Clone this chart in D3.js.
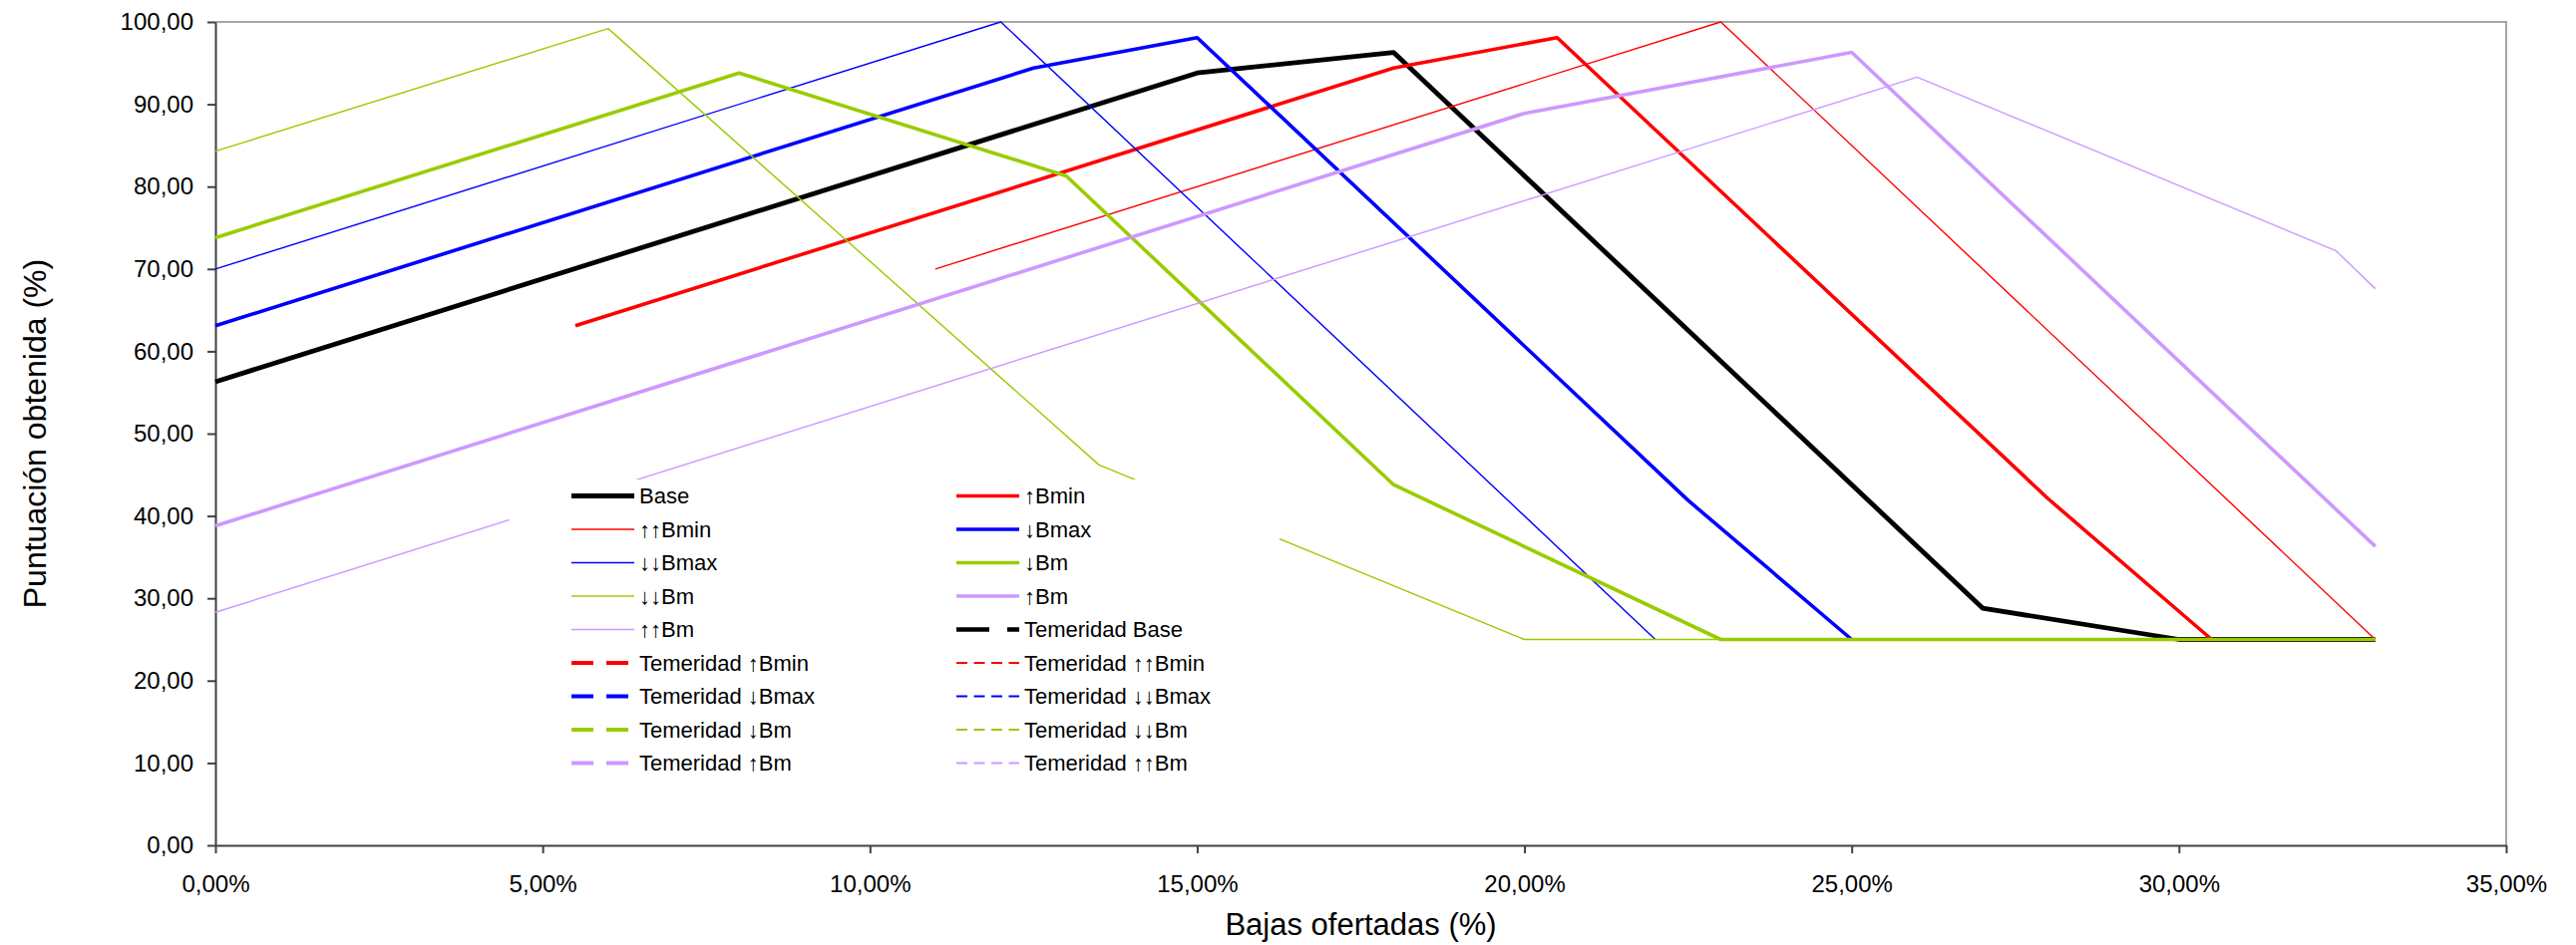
<!DOCTYPE html>
<html>
<head>
<meta charset="utf-8">
<script src="https://cdn.jsdelivr.net/npm/d3@7"></script>
<style>
  html, body { margin: 0; padding: 0; background: #fff; }
  svg { display: block; font-family: "Liberation Sans", Arial, sans-serif; }
</style>
</head>
<body>
<svg id="chart" width="2583" height="948"></svg>
<script>
// ---- Data (x: Bajas ofertadas %, y: Puntuación obtenida %) ----
const baseX = [0, 15, 18, 27, 30, 33];
const baseY = [56.3, 93.8, 96.3, 28.8, 25, 25];

const upBminX = [5.5, 18, 20.5, 28, 30.5];
const upBminY = [63.1, 94.4, 98.1, 42.1, 25];

const upupBminX = [11, 23, 33];
const upupBminY = [70.0, 100, 25];

const downBmaxX = [0, 12.5, 15, 22.5, 25];
const downBmaxY = [63.1, 94.4, 98.1, 41.9, 25];

const downdownBmaxX = [0, 12, 22];
const downdownBmaxY = [70.0, 100, 25];

const downBmX = [0, 8, 13, 18, 23, 33];
const downBmY = [73.8, 93.8, 81.3, 43.8, 25, 25];

const downdownBmX = [0, 6, 13.5, 20, 23];
const downdownBmY = [84.3, 99.2, 46.2, 25, 25];

const upBmX = [0, 20, 25, 33];
const upBmY = [38.8, 88.9, 96.3, 36.3];

const upupBmX = [0, 26, 32.4, 33];
const upupBmY = [28.3, 93.3, 72.2, 67.6];

const yTicks = [0, 10, 20, 30, 40, 50, 60, 70, 80, 90, 100];
const xTicks = [0, 5, 10, 15, 20, 25, 30, 35];

// series definitions (draw order = legend order)
const series = [
  {name: "Base", xs: baseX, ys: baseY, color: "#000000", w: 4.8, dash: null},
  {name: "\u2191Bmin", xs: upBminX, ys: upBminY, color: "#FF0000", w: 3.6, dash: null},
  {name: "\u2191\u2191Bmin", xs: upupBminX, ys: upupBminY, color: "#FF0000", w: 1.4, dash: null},
  {name: "\u2193Bmax", xs: downBmaxX, ys: downBmaxY, color: "#0000FF", w: 3.6, dash: null},
  {name: "\u2193\u2193Bmax", xs: downdownBmaxX, ys: downdownBmaxY, color: "#0000FF", w: 1.4, dash: null},
  {name: "\u2193Bm", xs: downBmX, ys: downBmY, color: "#99CC00", w: 3.6, dash: null},
  {name: "\u2193\u2193Bm", xs: downdownBmX, ys: downdownBmY, color: "#99CC00", w: 1.4, dash: null},
  {name: "\u2191Bm", xs: upBmX, ys: upBmY, color: "#CC99FF", w: 3.6, dash: null},
  {name: "\u2191\u2191Bm", xs: upupBmX, ys: upupBmY, color: "#CC99FF", w: 1.4, dash: null},
  {name: "Temeridad Base", xs: [], ys: [], color: "#000000", w: 4.5, dash: "33,18"},
  {name: "Temeridad \u2191Bmin", xs: [], ys: [], color: "#FF0000", w: 4, dash: "22,13"},
  {name: "Temeridad \u2191\u2191Bmin", xs: [], ys: [], color: "#FF0000", w: 2, dash: "11,6.5"},
  {name: "Temeridad \u2193Bmax", xs: [], ys: [], color: "#0000FF", w: 4, dash: "22,13"},
  {name: "Temeridad \u2193\u2193Bmax", xs: [], ys: [], color: "#0000FF", w: 2, dash: "11,6.5"},
  {name: "Temeridad \u2193Bm", xs: [], ys: [], color: "#99CC00", w: 4, dash: "22,13"},
  {name: "Temeridad \u2193\u2193Bm", xs: [], ys: [], color: "#99CC00", w: 2, dash: "11,6.5"},
  {name: "Temeridad \u2191Bm", xs: [], ys: [], color: "#CC99FF", w: 4, dash: "22,13"},
  {name: "Temeridad \u2191\u2191Bm", xs: [], ys: [], color: "#CC99FF", w: 2, dash: "11,6.5"}
];

// ---- Layout ----
const svg = d3.select("#chart");
const pL = 216, pR = 2513, pT = 22, pB = 848;
const x = d3.scaleLinear().domain([0, 35]).range([pL, pR]);
const y = d3.scaleLinear().domain([0, 100]).range([pB, pT]);

const loc = d3.formatLocale({decimal: ",", thousands: ".", grouping: [3], currency: ["", "€"]});
const fy = loc.format(".2f");
const fx = v => loc.format(".2f")(v) + "%";

// plot border (top & right)
svg.append("path")
  .attr("d", `M${pL},${pT}H${pR}V${pB}`)
  .attr("fill", "none").attr("stroke", "#a6a6a6").attr("stroke-width", 2);

// axes
const yAxis = d3.axisLeft(y).tickValues(yTicks).tickFormat(fy).tickSize(8).tickSizeOuter(0).tickPadding(14);
const xAxis = d3.axisBottom(x).tickValues(xTicks).tickFormat(fx).tickSize(8).tickSizeOuter(0).tickPadding(22);

const gy = svg.append("g").attr("transform", `translate(${pL},0)`).call(yAxis);
const gx = svg.append("g").attr("transform", `translate(0,${pB})`).call(xAxis);
[gy, gx].forEach(g => {
  g.select(".domain").attr("stroke", "#404040").attr("stroke-width", 2);
  g.selectAll(".tick line").attr("stroke", "#404040").attr("stroke-width", 2);
  g.selectAll(".tick text").attr("fill", "#000").style("font-size", "24px")
    .style("font-family", '"Liberation Sans", Arial, sans-serif');
});

// lines
const line = d3.line().x(d => x(d[0])).y(d => y(d[1]));
const gl = svg.append("g");
series.forEach(s => {
  if (!s.xs.length) return;
  const pts = s.xs.map((v, i) => [v, s.ys[i]]);
  gl.append("path").datum(pts).attr("d", line)
    .attr("fill", "none").attr("stroke", s.color).attr("stroke-width", s.w)
    .attr("stroke-linejoin", "round").attr("stroke-linecap", "butt")
    .attr("stroke-dasharray", s.dash);
});

// axis titles
svg.append("text").attr("x", (pL + pR) / 2).attr("y", 938)
  .attr("text-anchor", "middle").style("font-size", "31px").text("Bajas ofertadas (%)");
svg.append("text").attr("transform", `translate(46,${(pT + pB) / 2}) rotate(-90)`)
  .attr("text-anchor", "middle").style("font-size", "32px").text("Puntuación obtenida (%)");

// legend (white box on top of the lines)
const lg = svg.append("g");
lg.append("rect").attr("x", 511).attr("y", 481).attr("width", 772).attr("height", 305).attr("fill", "#fff");
const colX = [573, 959];
const rowY0 = 497.5, rowDy = 33.5;
series.forEach((s, i) => {
  const c = i % 2, r = Math.floor(i / 2);
  const yy = rowY0 + r * rowDy;
  lg.append("line").attr("x1", colX[c]).attr("x2", colX[c] + 63).attr("y1", yy).attr("y2", yy)
    .attr("stroke", s.color).attr("stroke-width", s.w).attr("stroke-dasharray", s.dash);
  lg.append("text").attr("x", colX[c] + 68).attr("y", yy).attr("dy", "0.36em")
    .style("font-size", "22px").text(s.name);
});
</script>
</body>
</html>
